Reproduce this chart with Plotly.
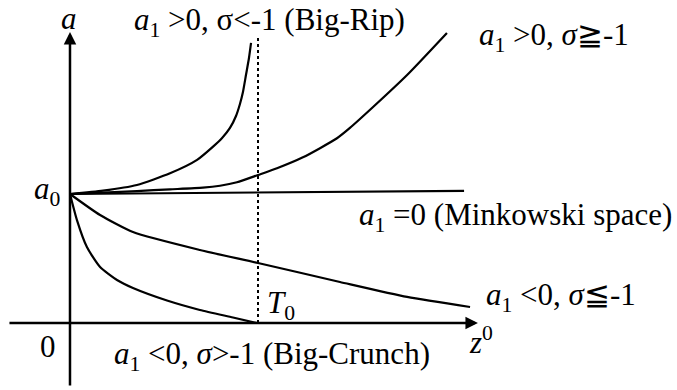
import plotly.graph_objects as go

# abstract units: z0 measured in T0, a measured in a0
T0 = 1.0
A0 = 1.0

rip_x = [0, 0.176, 0.356, 0.532, 0.676, 0.761, 0.809, 0.851, 0.883, 0.904, 0.920, 0.936,
         0.952, 0.963]
rip_y = [1.0, 1.026, 1.070, 1.160, 1.264, 1.367, 1.434, 1.512, 1.605, 1.698, 1.791, 1.922,
         2.054, 2.171]

grow_x = [0, 0.176, 0.356, 0.532, 0.707, 0.798, 0.888, 1.0, 1.101, 1.239, 1.420, 1.489,
          1.612, 1.793, 2.005]
grow_y = [1.0, 1.010, 1.023, 1.036, 1.049, 1.064, 1.091, 1.147, 1.199, 1.284, 1.432, 1.512,
          1.674, 1.922, 2.248]

mink_x = [0, 2.096]
mink_y = [1.0, 1.025]

decay_x = [0, 0.160, 0.335, 0.691, 1.0, 1.436, 1.793, 2.128]
decay_y = [1.0, 0.837, 0.705, 0.566, 0.465, 0.318, 0.202, 0.124]

crunch_x = [0, 0.037, 0.090, 0.160, 0.250, 0.335, 0.516, 0.691, 0.867, 0.995]
crunch_y = [1.0, 0.798, 0.589, 0.434, 0.333, 0.271, 0.174, 0.101, 0.043, 0.0]

t0_line_y = [0, 2.217]

FONT = dict(family='Liberation Serif', size=31, color='black')

fig = go.Figure()
for xs, ys in [(rip_x, rip_y), (grow_x, grow_y), (mink_x, mink_y),
               (decay_x, decay_y), (crunch_x, crunch_y)]:
    fig.add_trace(go.Scatter(x=xs, y=ys, mode='lines',
                             line=dict(color='black', width=2.2, shape='spline', smoothing=0.6),
                             hoverinfo='skip'))

fig.add_trace(go.Scatter(x=[T0, T0], y=t0_line_y, mode='lines',
                         line=dict(color='black', width=2, dash='dot'), hoverinfo='skip'))

# axes with arrows
fig.add_annotation(x=0, y=2.256, ax=0, ay=-0.496, axref='x', ayref='y',
                   showarrow=True, arrowhead=2, arrowsize=1, arrowwidth=2.5, arrowcolor='black', text='')
fig.add_annotation(x=2.170, y=0, ax=-0.33, ay=0, axref='x', ayref='y',
                   showarrow=True, arrowhead=2, arrowsize=1, arrowwidth=2.5, arrowcolor='black', text='')

labels = [
    ('<i>a</i>', -0.005, 2.36, 'center'),
    ('<i>a</i><sub>1</sub> &gt;0, σ&lt;-1 (Big-Rip)', 0.330, 2.33, 'left'),
    ('<i>a</i><sub>1</sub> &gt;0, <i>σ</i>≧-1', 2.165, 2.217, 'left'),
    ('<i>a</i><sub>0</sub>', -0.037, 1.02, 'right'),
    ('<i>a</i><sub>1</sub> =0 (Minkowski space)', 1.527, 0.822, 'left'),
    ('<i>a</i><sub>1</sub> &lt;0, <i>σ</i>≦-1', 2.202, 0.202, 'left'),
    ('<i>T</i><sub>0</sub>', 1.037, 0.14, 'left'),
    ('0', -0.117, -0.18, 'center'),
    ('<i>z</i><sup>0</sup>', 2.112, -0.132, 'left'),
    ('<i>a</i><sub>1</sub> &lt;0, <i>σ</i>&gt;-1 (Big-Crunch)', 0.223, -0.255, 'left'),
]
for text, x, y, anchor in labels:
    fig.add_annotation(x=x, y=y, text=text, showarrow=False, font=FONT,
                       xanchor=anchor, yanchor='middle')

fig.update_layout(
    width=677, height=390,
    margin=dict(l=0, r=0, t=0, b=0),
    plot_bgcolor='white', paper_bgcolor='white',
    showlegend=False,
    xaxis=dict(range=[-0.3723, 3.2287], visible=False),
    yaxis=dict(range=[-0.5194, 2.5039], visible=False),
)

fig.write_html("out.html", config={'displayModeBar': False},
               post_script="document.body.style.margin='0';")
